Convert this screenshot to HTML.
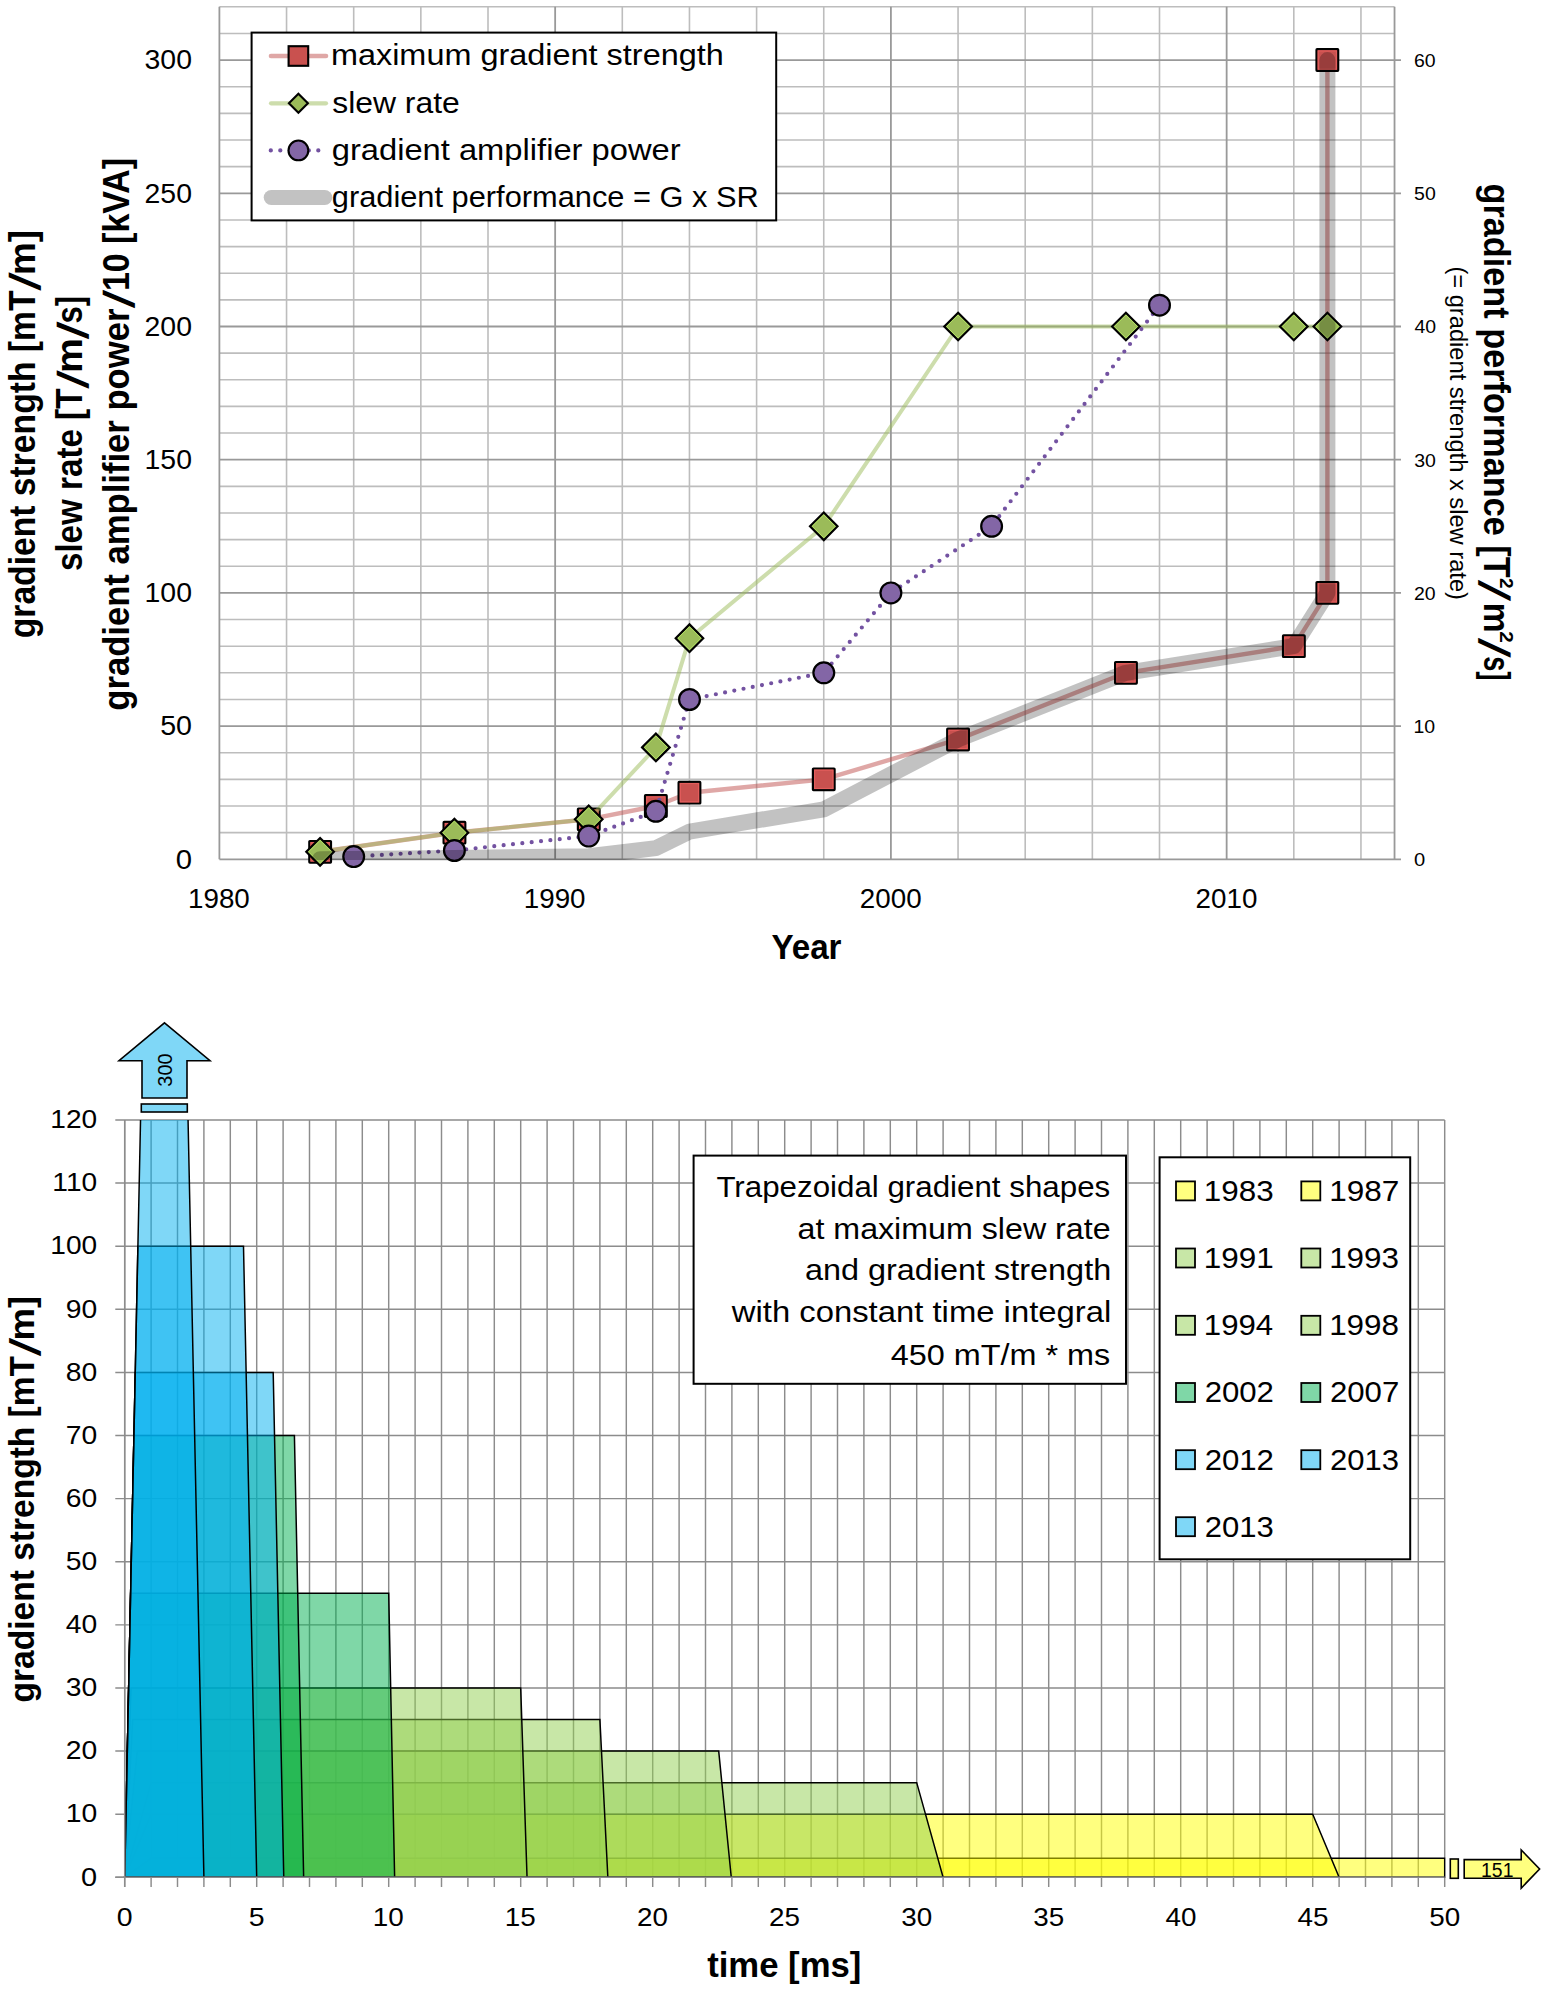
<!DOCTYPE html>
<html lang="en"><head><meta charset="utf-8"><title>Gradient performance</title>
<style>
html,body{margin:0;padding:0;background:#fff}
svg{display:block;font-family:"Liberation Sans",sans-serif}
</style></head><body>
<svg width="1547" height="1990" viewBox="0 0 1547 1990">
<rect width="1547" height="1990" fill="#fff"/>
<g fill="none" stroke-width="1.6">
<path d="M219.4 832.66H1394.5M219.4 806.02H1394.5M219.4 779.38H1394.5M219.4 752.74H1394.5M219.4 699.46H1394.5M219.4 672.82H1394.5M219.4 646.18H1394.5M219.4 619.54H1394.5M219.4 566.26H1394.5M219.4 539.62H1394.5M219.4 512.98H1394.5M219.4 486.34H1394.5M219.4 433.06H1394.5M219.4 406.42H1394.5M219.4 379.78H1394.5M219.4 353.14H1394.5M219.4 299.86H1394.5M219.4 273.22H1394.5M219.4 246.58H1394.5M219.4 219.94H1394.5M219.4 166.66H1394.5M219.4 140.02H1394.5M219.4 113.38H1394.5M219.4 86.74H1394.5M219.4 33.46H1394.5M219.4 6.82H1394.5M286.55 6.8V859.3M353.70 6.8V859.3M420.85 6.8V859.3M488.00 6.8V859.3M622.30 6.8V859.3M689.45 6.8V859.3M756.60 6.8V859.3M823.75 6.8V859.3M958.05 6.8V859.3M1025.20 6.8V859.3M1092.35 6.8V859.3M1159.50 6.8V859.3M1293.80 6.8V859.3M1360.95 6.8V859.3" stroke="#bdbdbd"/>
<path d="M219.4 859.30H1401.0M219.4 726.10H1401.0M219.4 592.90H1401.0M219.4 459.70H1401.0M219.4 326.50H1401.0M219.4 193.30H1401.0M219.4 60.10H1401.0M219.40 6.8V859.3M555.15 6.8V859.3M890.90 6.8V859.3M1226.65 6.8V859.3M1394.53 6.8V859.3" stroke="#999999" stroke-width="1.8"/>
</g>
<polyline points="320.1,851.8 454.4,832.7 588.7,819.3 655.9,806.0 689.5,792.7 823.8,779.4 958.1,739.4 1125.9,672.8 1293.8,646.2 1327.4,592.9 1327.4,60.1" fill="none" stroke="#C0504D" stroke-opacity="0.5" stroke-width="4.4" stroke-linejoin="round" stroke-linecap="round"/>
<g fill="#C9514F" stroke="#000" stroke-width="2.2" stroke-linejoin="miter">
<rect x="309.3" y="841.0" width="21.7" height="21.7" rx="0.6"/>
<rect x="311.0" y="842.7" width="18.3" height="18.3" fill="none" stroke="#E35D5B" stroke-width="1.2"/>
<rect x="443.6" y="821.8" width="21.7" height="21.7" rx="0.6"/>
<rect x="445.3" y="823.5" width="18.3" height="18.3" fill="none" stroke="#E35D5B" stroke-width="1.2"/>
<rect x="577.9" y="808.5" width="21.7" height="21.7" rx="0.6"/>
<rect x="579.6" y="810.2" width="18.3" height="18.3" fill="none" stroke="#E35D5B" stroke-width="1.2"/>
<rect x="645.0" y="795.2" width="21.7" height="21.7" rx="0.6"/>
<rect x="646.7" y="796.9" width="18.3" height="18.3" fill="none" stroke="#E35D5B" stroke-width="1.2"/>
<rect x="678.6" y="781.8" width="21.7" height="21.7" rx="0.6"/>
<rect x="680.3" y="783.5" width="18.3" height="18.3" fill="none" stroke="#E35D5B" stroke-width="1.2"/>
<rect x="812.9" y="768.5" width="21.7" height="21.7" rx="0.6"/>
<rect x="814.6" y="770.2" width="18.3" height="18.3" fill="none" stroke="#E35D5B" stroke-width="1.2"/>
<rect x="947.2" y="728.6" width="21.7" height="21.7" rx="0.6"/>
<rect x="948.9" y="730.3" width="18.3" height="18.3" fill="none" stroke="#E35D5B" stroke-width="1.2"/>
<rect x="1115.1" y="662.0" width="21.7" height="21.7" rx="0.6"/>
<rect x="1116.8" y="663.7" width="18.3" height="18.3" fill="none" stroke="#E35D5B" stroke-width="1.2"/>
<rect x="1283.0" y="635.3" width="21.7" height="21.7" rx="0.6"/>
<rect x="1284.7" y="637.0" width="18.3" height="18.3" fill="none" stroke="#E35D5B" stroke-width="1.2"/>
<rect x="1316.5" y="582.0" width="21.7" height="21.7" rx="0.6"/>
<rect x="1318.2" y="583.7" width="18.3" height="18.3" fill="none" stroke="#E35D5B" stroke-width="1.2"/>
<rect x="1316.5" y="49.2" width="21.7" height="21.7" rx="0.6"/>
<rect x="1318.2" y="50.9" width="18.3" height="18.3" fill="none" stroke="#E35D5B" stroke-width="1.2"/>
</g>
<polyline points="320.1,851.8 454.4,832.7 588.7,819.3 655.9,747.4 689.5,638.2 823.8,526.3 958.1,326.5 1125.9,326.5 1293.8,326.5 1327.4,326.5" fill="none" stroke="#9BBB59" stroke-opacity="0.5" stroke-width="4" stroke-linejoin="round" stroke-linecap="round"/>
<g fill="#9BBB59" stroke="#000" stroke-width="2.2">
<path d="M306.3 851.8L320.1 838.0L333.9 851.8L320.1 865.6Z"/>
<path d="M308.6 851.8L320.1 840.3L331.7 851.8L320.1 863.4Z" fill="none" stroke="#B1E062" stroke-width="1"/>
<path d="M440.6 832.7L454.4 818.9L468.2 832.7L454.4 846.5Z"/>
<path d="M442.9 832.7L454.4 821.1L466.0 832.7L454.4 844.2Z" fill="none" stroke="#B1E062" stroke-width="1"/>
<path d="M574.9 819.3L588.7 805.5L602.5 819.3L588.7 833.1Z"/>
<path d="M577.2 819.3L588.7 807.8L600.3 819.3L588.7 830.9Z" fill="none" stroke="#B1E062" stroke-width="1"/>
<path d="M642.1 747.4L655.9 733.6L669.7 747.4L655.9 761.2Z"/>
<path d="M644.3 747.4L655.9 735.9L667.4 747.4L655.9 758.9Z" fill="none" stroke="#B1E062" stroke-width="1"/>
<path d="M675.7 638.2L689.5 624.4L703.2 638.2L689.5 652.0Z"/>
<path d="M677.9 638.2L689.5 626.7L701.0 638.2L689.5 649.7Z" fill="none" stroke="#B1E062" stroke-width="1"/>
<path d="M810.0 526.3L823.8 512.5L837.5 526.3L823.8 540.1Z"/>
<path d="M812.2 526.3L823.8 514.8L835.3 526.3L823.8 537.8Z" fill="none" stroke="#B1E062" stroke-width="1"/>
<path d="M944.3 326.5L958.1 312.7L971.9 326.5L958.1 340.3Z"/>
<path d="M946.5 326.5L958.1 315.0L969.6 326.5L958.1 338.0Z" fill="none" stroke="#B1E062" stroke-width="1"/>
<path d="M1112.1 326.5L1125.9 312.7L1139.7 326.5L1125.9 340.3Z"/>
<path d="M1114.4 326.5L1125.9 315.0L1137.5 326.5L1125.9 338.0Z" fill="none" stroke="#B1E062" stroke-width="1"/>
<path d="M1280.0 326.5L1293.8 312.7L1307.6 326.5L1293.8 340.3Z"/>
<path d="M1282.3 326.5L1293.8 315.0L1305.3 326.5L1293.8 338.0Z" fill="none" stroke="#B1E062" stroke-width="1"/>
<path d="M1313.6 326.5L1327.4 312.7L1341.2 326.5L1327.4 340.3Z"/>
<path d="M1315.8 326.5L1327.4 315.0L1338.9 326.5L1327.4 338.0Z" fill="none" stroke="#B1E062" stroke-width="1"/>
</g>
<polyline points="353.7,856.6 454.4,850.5 588.7,836.1 655.9,811.3 689.5,699.5 823.8,672.8 890.9,592.9 991.6,526.3 1159.5,305.2" fill="none" stroke="#7352A1" stroke-width="4.2" stroke-dasharray="0 9.4" stroke-linecap="round" stroke-linejoin="round"/>
<g fill="#8366A6" stroke="#000" stroke-width="2.2">
<circle cx="353.7" cy="856.6" r="10.4"/>
<circle cx="454.4" cy="850.5" r="10.4"/>
<circle cx="588.7" cy="836.1" r="10.4"/>
<circle cx="655.9" cy="811.3" r="10.4"/>
<circle cx="689.5" cy="699.5" r="10.4"/>
<circle cx="823.8" cy="672.8" r="10.4"/>
<circle cx="890.9" cy="592.9" r="10.4"/>
<circle cx="991.6" cy="526.3" r="10.4"/>
<circle cx="1159.5" cy="305.2" r="10.4"/>
</g>
<clipPath id="cp1"><rect x="219.4" y="6.8" width="1175.1" height="853.2"/></clipPath>
<polyline clip-path="url(#cp1)" points="320.1,859.2 454.4,858.0 588.7,856.3 655.9,848.1 689.5,831.6 823.8,809.3 958.1,739.4 1125.9,672.8 1293.8,646.2 1327.4,592.9 1327.4,60.1" fill="none" stroke="#000" stroke-opacity="0.24" stroke-width="16" stroke-linejoin="round" stroke-linecap="round"/>
<text transform="translate(175.73 868.60)" font-size="27.5" textLength="16.30" lengthAdjust="spacingAndGlyphs" fill="#000">0</text>
<text transform="translate(160.19 735.40)" font-size="27.5" textLength="31.85" lengthAdjust="spacingAndGlyphs" fill="#000">50</text>
<text transform="translate(144.55 602.20)" font-size="27.5" textLength="47.45" lengthAdjust="spacingAndGlyphs" fill="#000">100</text>
<text transform="translate(144.55 469.00)" font-size="27.5" textLength="47.45" lengthAdjust="spacingAndGlyphs" fill="#000">150</text>
<text transform="translate(144.56 335.80)" font-size="27.5" textLength="47.44" lengthAdjust="spacingAndGlyphs" fill="#000">200</text>
<text transform="translate(144.56 202.60)" font-size="27.5" textLength="47.44" lengthAdjust="spacingAndGlyphs" fill="#000">250</text>
<text transform="translate(144.56 69.40)" font-size="27.5" textLength="47.43" lengthAdjust="spacingAndGlyphs" fill="#000">300</text>
<text transform="translate(1414.09 866.10)" font-size="18.9" textLength="11.21" lengthAdjust="spacingAndGlyphs" fill="#000">0</text>
<text transform="translate(1413.44 732.90)" font-size="18.9" textLength="21.69" lengthAdjust="spacingAndGlyphs" fill="#000">10</text>
<text transform="translate(1413.93 599.70)" font-size="18.9" textLength="21.68" lengthAdjust="spacingAndGlyphs" fill="#000">20</text>
<text transform="translate(1414.17 466.50)" font-size="18.9" textLength="21.67" lengthAdjust="spacingAndGlyphs" fill="#000">30</text>
<text transform="translate(1414.46 333.30)" font-size="18.9" textLength="21.66" lengthAdjust="spacingAndGlyphs" fill="#000">40</text>
<text transform="translate(1414.12 200.10)" font-size="18.9" textLength="21.67" lengthAdjust="spacingAndGlyphs" fill="#000">50</text>
<text transform="translate(1413.93 66.90)" font-size="18.9" textLength="21.68" lengthAdjust="spacingAndGlyphs" fill="#000">60</text>
<text transform="translate(188.00 907.70)" font-size="27.5" textLength="61.81" lengthAdjust="spacingAndGlyphs" fill="#000">1980</text>
<text transform="translate(523.75 907.70)" font-size="27.5" textLength="61.81" lengthAdjust="spacingAndGlyphs" fill="#000">1990</text>
<text transform="translate(859.85 907.70)" font-size="27.5" textLength="61.80" lengthAdjust="spacingAndGlyphs" fill="#000">2000</text>
<text transform="translate(1195.60 907.70)" font-size="27.5" textLength="61.80" lengthAdjust="spacingAndGlyphs" fill="#000">2010</text>
<text transform="translate(771.42 959.20)" font-size="35.2" font-weight="bold" textLength="70.12" lengthAdjust="spacingAndGlyphs" fill="#000">Year</text>
<text transform="translate(34.70 638.25) rotate(-90)" font-size="36" font-weight="bold" textLength="347.73" lengthAdjust="spacingAndGlyphs" fill="#000">gradient strength [mT</text>
<text transform="translate(40.10 291.00) rotate(-90) skewX(-13.1)" font-size="43.2" font-weight="bold">/</text>
<text transform="translate(34.70 274.89) rotate(-90)" font-size="36" font-weight="bold" textLength="44.90" lengthAdjust="spacingAndGlyphs" fill="#000">m]</text>
<text transform="translate(82.10 571.06) rotate(-90)" font-size="36" font-weight="bold" textLength="182.48" lengthAdjust="spacingAndGlyphs" fill="#000">slew rate [T</text>
<text transform="translate(87.50 389.00) rotate(-90) skewX(-13.1)" font-size="43.2" font-weight="bold">/</text>
<text transform="translate(82.10 373.05) rotate(-90)" font-size="36" font-weight="bold" textLength="34.87" lengthAdjust="spacingAndGlyphs" fill="#000">m</text>
<text transform="translate(87.50 339.40) rotate(-90) skewX(-11.4)" font-size="43.2" font-weight="bold">/</text>
<text transform="translate(82.10 323.38) rotate(-90)" font-size="36" font-weight="bold" textLength="27.54" lengthAdjust="spacingAndGlyphs" fill="#000">s]</text>
<text transform="translate(128.90 710.68) rotate(-90)" font-size="36" font-weight="bold" textLength="402.06" lengthAdjust="spacingAndGlyphs" fill="#000">gradient amplifier power</text>
<text transform="translate(134.30 308.60) rotate(-90) skewX(-12.8)" font-size="43.2" font-weight="bold">/</text>
<text transform="translate(128.90 291.02) rotate(-90)" font-size="36" font-weight="bold" textLength="133.18" lengthAdjust="spacingAndGlyphs" fill="#000">10 [kVA]</text>
<text transform="translate(1484.30 183.53) rotate(90)" font-size="36.3" font-weight="bold" textLength="394.11" lengthAdjust="spacingAndGlyphs" fill="#000">gradient performance [T</text>
<text transform="translate(1499.50 578.03) rotate(90)" font-size="17.5" font-weight="bold" textLength="10.60" lengthAdjust="spacingAndGlyphs" fill="#000">2</text>
<text transform="translate(1478.86 579.40) rotate(90) skewX(-17.8)" font-size="43.6" font-weight="bold">/</text>
<text transform="translate(1484.30 602.72) rotate(90)" font-size="36.3" font-weight="bold" textLength="29.85" lengthAdjust="spacingAndGlyphs" fill="#000">m</text>
<text transform="translate(1499.50 631.17) rotate(90)" font-size="17.5" font-weight="bold" textLength="11.53" lengthAdjust="spacingAndGlyphs" fill="#000">2</text>
<text transform="translate(1478.86 637.60) rotate(90) skewX(-15.2)" font-size="43.6" font-weight="bold">/</text>
<text transform="translate(1484.30 656.35) rotate(90)" font-size="36.3" font-weight="bold" textLength="24.08" lengthAdjust="spacingAndGlyphs" fill="#000">s]</text>
<text transform="translate(1449.80 266.42) rotate(90)" font-size="24.6" textLength="333.51" lengthAdjust="spacingAndGlyphs" fill="#000">(= gradient strength x slew rate)</text>
<rect x="251.6" y="32.6" width="524.6" height="187.8" fill="#fff" stroke="#000" stroke-width="2"/>
<path d="M271 56.0H326" stroke="#C0504D" stroke-opacity="0.5" stroke-width="4.6" stroke-linecap="round"/>
<rect x="288.59999999999997" y="46.2" width="19.6" height="19.6" fill="#C9514F" stroke="#000" stroke-width="2.1"/>
<path d="M271 103.3H326" stroke="#9BBB59" stroke-opacity="0.5" stroke-width="4.2" stroke-linecap="round"/>
<path d="M288.9 103.3L298.4 93.8L307.9 103.3L298.4 112.8Z" fill="#9BBB59" stroke="#000" stroke-width="2.1"/>
<path d="M270.8 150.4H322" stroke="#7352A1" stroke-width="4.3" stroke-dasharray="0 9.5" stroke-linecap="round"/>
<circle cx="298.4" cy="150.4" r="9.9" fill="#8366A6" stroke="#000" stroke-width="2.1"/>
<path d="M271.2 197.5H324.8" stroke="#000" stroke-opacity="0.24" stroke-width="15" stroke-linecap="round"/>
<text transform="translate(330.91 65.20)" font-size="29.7" textLength="392.87" lengthAdjust="spacingAndGlyphs" fill="#000">maximum gradient strength</text>
<text transform="translate(332.22 112.80)" font-size="29.7" textLength="127.58" lengthAdjust="spacingAndGlyphs" fill="#000">slew rate</text>
<text transform="translate(331.71 160.20)" font-size="29.7" textLength="348.87" lengthAdjust="spacingAndGlyphs" fill="#000">gradient amplifier power</text>
<text transform="translate(331.79 207.30)" font-size="29.7" textLength="426.89" lengthAdjust="spacingAndGlyphs" fill="#000">gradient performance = G x SR</text>
<path d="M115.3 1877.30H1444.7M115.3 1814.19H1444.7M115.3 1751.08H1444.7M115.3 1687.97H1444.7M115.3 1624.86H1444.7M115.3 1561.75H1444.7M115.3 1498.64H1444.7M115.3 1435.53H1444.7M115.3 1372.42H1444.7M115.3 1309.31H1444.7M115.3 1246.20H1444.7M115.3 1183.09H1444.7M115.3 1119.98H1444.7M124.70 1120.0V1886.9M151.10 1120.0V1886.9M177.50 1120.0V1886.9M203.90 1120.0V1886.9M230.30 1120.0V1886.9M256.70 1120.0V1886.9M283.10 1120.0V1886.9M309.50 1120.0V1886.9M335.90 1120.0V1886.9M362.30 1120.0V1886.9M388.70 1120.0V1886.9M415.10 1120.0V1886.9M441.50 1120.0V1886.9M467.90 1120.0V1886.9M494.30 1120.0V1886.9M520.70 1120.0V1886.9M547.10 1120.0V1886.9M573.50 1120.0V1886.9M599.90 1120.0V1886.9M626.30 1120.0V1886.9M652.70 1120.0V1886.9M679.10 1120.0V1886.9M705.50 1120.0V1886.9M731.90 1120.0V1886.9M758.30 1120.0V1886.9M784.70 1120.0V1886.9M811.10 1120.0V1886.9M837.50 1120.0V1886.9M863.90 1120.0V1886.9M890.30 1120.0V1886.9M916.70 1120.0V1886.9M943.10 1120.0V1886.9M969.50 1120.0V1886.9M995.90 1120.0V1886.9M1022.30 1120.0V1886.9M1048.70 1120.0V1886.9M1075.10 1120.0V1886.9M1101.50 1120.0V1886.9M1127.90 1120.0V1886.9M1154.30 1120.0V1886.9M1180.70 1120.0V1886.9M1207.10 1120.0V1886.9M1233.50 1120.0V1886.9M1259.90 1120.0V1886.9M1286.30 1120.0V1886.9M1312.70 1120.0V1886.9M1339.10 1120.0V1886.9M1365.50 1120.0V1886.9M1391.90 1120.0V1886.9M1418.30 1120.0V1886.9M1444.70 1120.0V1886.9" fill="none" stroke="#8c8c8c" stroke-width="1.45"/>
<clipPath id="cp2"><rect x="122.7" y="1120.0" width="1322.9" height="759.3"/></clipPath>
<g clip-path="url(#cp2)" stroke="#000" stroke-width="1.5" stroke-linejoin="miter" fill-opacity="0.5">
<polygon points="124.70,1877.30 151.10,1858.37 1444.70,1858.37 1444.70,1877.30" fill="#FFFF00"/>
<polygon points="124.70,1877.30 151.10,1814.19 1312.70,1814.19 1339.10,1877.30" fill="#FFFF00"/>
<polygon points="124.70,1877.30 151.10,1782.63 916.70,1782.63 943.10,1877.30" fill="#92D050"/>
<polygon points="124.70,1877.30 137.27,1751.08 718.70,1751.08 731.27,1877.30" fill="#92D050"/>
<polygon points="124.70,1877.30 132.65,1719.52 599.90,1719.52 607.85,1877.30" fill="#92D050"/>
<polygon points="124.70,1877.30 131.04,1687.97 520.70,1687.97 527.04,1877.30" fill="#92D050"/>
<polygon points="124.70,1877.30 130.64,1593.30 388.70,1593.30 394.64,1877.30" fill="#00B050"/>
<polygon points="124.70,1877.30 133.94,1435.53 294.41,1435.53 303.65,1877.30" fill="#00B050"/>
<polygon points="124.70,1877.30 135.26,1372.42 273.20,1372.42 283.76,1877.30" fill="#00B0F0"/>
<polygon points="124.70,1877.30 137.90,1246.20 243.50,1246.20 256.70,1877.30" fill="#00B0F0"/>
<polygon points="124.70,1877.30 164.30,-16.00 203.90,1877.30" fill="#00B0F0"/>
</g>
<path d="M115.3 1877.30H1444.7M124.70 1120.0V1886.9" fill="none" stroke="#8c8c8c" stroke-width="1.45"/>
<g stroke="#000" stroke-width="1.6" fill="#7FD7F7" stroke-linejoin="miter">
<polygon points="164.5,1022.8 210,1060.7 187,1060.7 187,1098 142,1098 142,1060.7 119,1060.7"/>
<rect x="141.3" y="1104" width="46" height="8"/>
</g>
<g stroke="#000" stroke-width="1.6" fill="#FFFF7F" stroke-linejoin="miter">
<polygon points="1464.2,1859.6 1521.2,1859.6 1521.2,1850 1539.6,1869 1521.2,1888.2 1521.2,1878.3 1464.2,1878.3"/>
<rect x="1450.3" y="1859" width="8" height="19.3"/>
</g>
<text transform="translate(171.80 1086.65) rotate(-90)" font-size="19.3" textLength="33.21" lengthAdjust="spacingAndGlyphs" fill="#000">300</text>
<text transform="translate(1481.04 1877.20)" font-size="19.4" textLength="32.40" lengthAdjust="spacingAndGlyphs" fill="#000">151</text>
<text transform="translate(81.10 1885.50)" font-size="26.4" textLength="16.12" lengthAdjust="spacingAndGlyphs" fill="#000">0</text>
<text transform="translate(65.73 1822.39)" font-size="26.4" textLength="31.50" lengthAdjust="spacingAndGlyphs" fill="#000">10</text>
<text transform="translate(65.74 1759.28)" font-size="26.4" textLength="31.49" lengthAdjust="spacingAndGlyphs" fill="#000">20</text>
<text transform="translate(65.75 1696.17)" font-size="26.4" textLength="31.48" lengthAdjust="spacingAndGlyphs" fill="#000">30</text>
<text transform="translate(65.76 1633.06)" font-size="26.4" textLength="31.47" lengthAdjust="spacingAndGlyphs" fill="#000">40</text>
<text transform="translate(65.75 1569.95)" font-size="26.4" textLength="31.48" lengthAdjust="spacingAndGlyphs" fill="#000">50</text>
<text transform="translate(65.74 1506.84)" font-size="26.4" textLength="31.49" lengthAdjust="spacingAndGlyphs" fill="#000">60</text>
<text transform="translate(65.74 1443.73)" font-size="26.4" textLength="31.49" lengthAdjust="spacingAndGlyphs" fill="#000">70</text>
<text transform="translate(65.75 1380.62)" font-size="26.4" textLength="31.48" lengthAdjust="spacingAndGlyphs" fill="#000">80</text>
<text transform="translate(65.74 1317.51)" font-size="26.4" textLength="31.49" lengthAdjust="spacingAndGlyphs" fill="#000">90</text>
<text transform="translate(50.29 1254.40)" font-size="26.4" textLength="46.90" lengthAdjust="spacingAndGlyphs" fill="#000">100</text>
<text transform="translate(52.36 1191.29)" font-size="26.4" textLength="44.84" lengthAdjust="spacingAndGlyphs" fill="#000">110</text>
<text transform="translate(50.29 1128.18)" font-size="26.4" textLength="46.90" lengthAdjust="spacingAndGlyphs" fill="#000">120</text>
<text transform="translate(116.75 1925.50)" font-size="26.2" textLength="15.85" lengthAdjust="spacingAndGlyphs" fill="#000">0</text>
<text transform="translate(248.79 1925.50)" font-size="26.2" textLength="15.86" lengthAdjust="spacingAndGlyphs" fill="#000">5</text>
<text transform="translate(372.72 1925.50)" font-size="26.2" textLength="30.98" lengthAdjust="spacingAndGlyphs" fill="#000">10</text>
<text transform="translate(504.76 1925.50)" font-size="26.2" textLength="30.98" lengthAdjust="spacingAndGlyphs" fill="#000">15</text>
<text transform="translate(637.08 1925.50)" font-size="26.2" textLength="30.96" lengthAdjust="spacingAndGlyphs" fill="#000">20</text>
<text transform="translate(769.11 1925.50)" font-size="26.2" textLength="30.96" lengthAdjust="spacingAndGlyphs" fill="#000">25</text>
<text transform="translate(901.26 1925.50)" font-size="26.2" textLength="30.95" lengthAdjust="spacingAndGlyphs" fill="#000">30</text>
<text transform="translate(1033.29 1925.50)" font-size="26.2" textLength="30.96" lengthAdjust="spacingAndGlyphs" fill="#000">35</text>
<text transform="translate(1165.47 1925.50)" font-size="26.2" textLength="30.94" lengthAdjust="spacingAndGlyphs" fill="#000">40</text>
<text transform="translate(1297.50 1925.50)" font-size="26.2" textLength="30.95" lengthAdjust="spacingAndGlyphs" fill="#000">45</text>
<text transform="translate(1429.22 1925.50)" font-size="26.2" textLength="30.96" lengthAdjust="spacingAndGlyphs" fill="#000">50</text>
<text transform="translate(707.17 1977.00)" font-size="34.4" font-weight="bold" textLength="154.16" lengthAdjust="spacingAndGlyphs" fill="#000">time [ms]</text>
<text transform="translate(34.30 1702.44) rotate(-90)" font-size="35.6" font-weight="bold" textLength="346.52" lengthAdjust="spacingAndGlyphs" fill="#000">gradient strength [mT</text>
<text transform="translate(39.64 1356.40) rotate(-90) skewX(-13.1)" font-size="42.7" font-weight="bold">/</text>
<text transform="translate(34.30 1340.48) rotate(-90)" font-size="35.6" font-weight="bold" textLength="44.67" lengthAdjust="spacingAndGlyphs" fill="#000">m]</text>
<rect x="693.6" y="1155.6" width="432.4" height="228.2" fill="#fff" stroke="#000" stroke-width="2"/>
<text transform="translate(716.40 1196.80)" font-size="28.9" textLength="393.80" lengthAdjust="spacingAndGlyphs" fill="#000">Trapezoidal gradient shapes</text>
<text transform="translate(797.53 1238.60)" font-size="28.9" textLength="313.01" lengthAdjust="spacingAndGlyphs" fill="#000">at maximum slew rate</text>
<text transform="translate(804.92 1280.40)" font-size="28.9" textLength="306.25" lengthAdjust="spacingAndGlyphs" fill="#000">and gradient strength</text>
<text transform="translate(731.78 1322.20)" font-size="28.9" textLength="379.50" lengthAdjust="spacingAndGlyphs" fill="#000">with constant time integral</text>
<text transform="translate(890.67 1364.50)" font-size="28.9" textLength="219.53" lengthAdjust="spacingAndGlyphs" fill="#000">450 mT/m * ms</text>
<rect x="1159.6" y="1157.3" width="250.6" height="402" fill="#fff" stroke="#000" stroke-width="2"/>
<rect x="1176.0" y="1181.4" width="19" height="19" fill="#FFFF7F" stroke="#000" stroke-width="1.8"/>
<text transform="translate(1203.84 1200.70)" font-size="30" textLength="69.86" lengthAdjust="spacingAndGlyphs" fill="#000">1983</text>
<rect x="1301.3" y="1181.4" width="19" height="19" fill="#FFFF7F" stroke="#000" stroke-width="1.8"/>
<text transform="translate(1329.14 1200.70)" font-size="30" textLength="70.11" lengthAdjust="spacingAndGlyphs" fill="#000">1987</text>
<rect x="1176.0" y="1248.5" width="19" height="19" fill="#C8E7A7" stroke="#000" stroke-width="1.8"/>
<text transform="translate(1203.84 1267.80)" font-size="30" textLength="70.02" lengthAdjust="spacingAndGlyphs" fill="#000">1991</text>
<rect x="1301.3" y="1248.5" width="19" height="19" fill="#C8E7A7" stroke="#000" stroke-width="1.8"/>
<text transform="translate(1329.14 1267.80)" font-size="30" textLength="69.86" lengthAdjust="spacingAndGlyphs" fill="#000">1993</text>
<rect x="1176.0" y="1315.8" width="19" height="19" fill="#C8E7A7" stroke="#000" stroke-width="1.8"/>
<text transform="translate(1203.86 1335.10)" font-size="30" textLength="69.36" lengthAdjust="spacingAndGlyphs" fill="#000">1994</text>
<rect x="1301.3" y="1315.8" width="19" height="19" fill="#C8E7A7" stroke="#000" stroke-width="1.8"/>
<text transform="translate(1329.14 1335.10)" font-size="30" textLength="69.86" lengthAdjust="spacingAndGlyphs" fill="#000">1998</text>
<rect x="1176.0" y="1383.0" width="19" height="19" fill="#7FD7A7" stroke="#000" stroke-width="1.8"/>
<text transform="translate(1204.64 1402.30)" font-size="30" textLength="69.28" lengthAdjust="spacingAndGlyphs" fill="#000">2002</text>
<rect x="1301.3" y="1383.0" width="19" height="19" fill="#7FD7A7" stroke="#000" stroke-width="1.8"/>
<text transform="translate(1329.94 1402.30)" font-size="30" textLength="69.28" lengthAdjust="spacingAndGlyphs" fill="#000">2007</text>
<rect x="1176.0" y="1450.2" width="19" height="19" fill="#7FD7F7" stroke="#000" stroke-width="1.8"/>
<text transform="translate(1204.64 1469.50)" font-size="30" textLength="69.28" lengthAdjust="spacingAndGlyphs" fill="#000">2012</text>
<rect x="1301.3" y="1450.2" width="19" height="19" fill="#7FD7F7" stroke="#000" stroke-width="1.8"/>
<text transform="translate(1329.95 1469.50)" font-size="30" textLength="69.04" lengthAdjust="spacingAndGlyphs" fill="#000">2013</text>
<rect x="1176.0" y="1517.2" width="19" height="19" fill="#7FD7F7" stroke="#000" stroke-width="1.8"/>
<text transform="translate(1204.65 1536.50)" font-size="30" textLength="69.04" lengthAdjust="spacingAndGlyphs" fill="#000">2013</text>
</svg>
</body></html>
